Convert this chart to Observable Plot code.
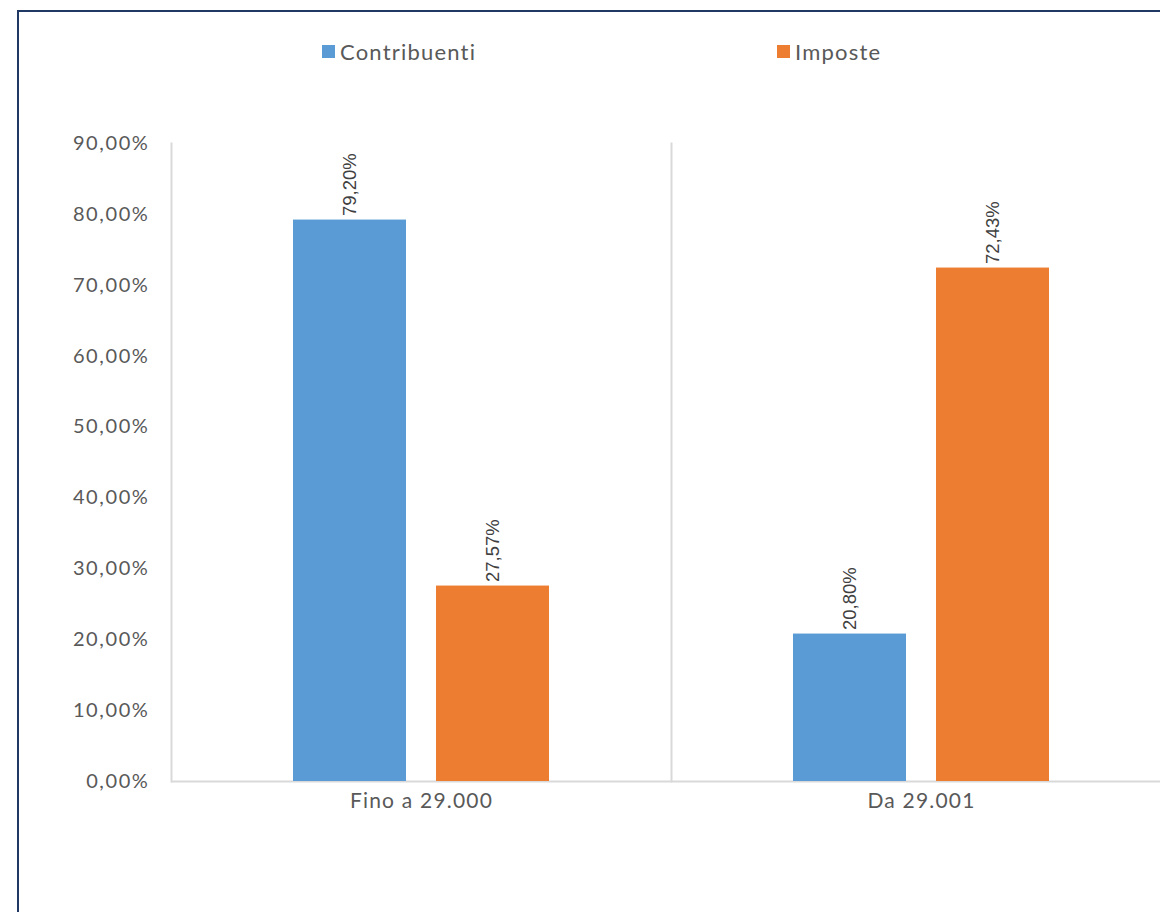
<!DOCTYPE html>
<html><head><meta charset="utf-8">
<script src="https://cdn.jsdelivr.net/npm/d3@7"></script>
<script src="https://cdn.jsdelivr.net/npm/@observablehq/plot@0.6"></script>
<style>
body{margin:0;background:#fff;}
#wrap{position:relative;width:1160px;height:912px;overflow:hidden;background:#fff;}
#border{position:absolute;left:17px;top:10px;width:1300px;height:1100px;border:2px solid #203864;box-sizing:border-box;pointer-events:none;}
.leg{position:absolute;top:38px;display:flex;align-items:center;font-family:Lato,sans-serif;font-size:22px;letter-spacing:1.2px;color:#595959;}
.sw{width:13px;height:13px;margin-right:5px;}
#chart svg{display:block;}
</style></head>
<body>
<div id="wrap">
  <div id="chart"></div>
  <div id="border"></div>
  <div id="legend"></div>
</div>
<script>
const categories = ["Fino a 29.000", "Da 29.001"];
const series = ["Contribuenti", "Imposte"];
const contribuenti = [79.20, 20.80];
const imposte = [27.57, 72.43];
const colors = ["#5B9BD5", "#ED7D31"];
const yTicks = [0, 10, 20, 30, 40, 50, 60, 70, 80, 90];

const values = {Contribuenti: contribuenti, Imposte: imposte};
const data = categories.flatMap((c, i) => series.map(s => ({cat: c, series: s, value: values[s][i]})));
const fmt = v => v.toFixed(2).replace(".", ",") + "%";

const chart = Plot.plot({
  width: 1160, height: 912,
  marginLeft: 171, marginRight: -11, marginTop: 143, marginBottom: 131,
  style: {fontFamily: "Lato, sans-serif", fontSize: "20px", color: "#595959", background: "transparent"},
  fx: {domain: categories, padding: 0, label: null},
  x: {domain: series, paddingInner: 0.21, paddingOuter: 0.853, axis: null},
  y: {domain: [0, 90], label: null},
  color: {domain: series, range: colors},
  marks: [
    Plot.frame({anchor: "left", stroke: "#d9d9d9", strokeWidth: 2}),
    Plot.ruleY([0], {stroke: "#d9d9d9", strokeWidth: 2}),
    Plot.axisY({ticks: yTicks, tickFormat: fmt, tickSize: 0, tickPadding: 22, fontSize: 20, fill: "#595959", label: null}),
    Plot.axisFx({anchor: "bottom", tickSize: 0, tickPadding: 12, fontSize: 21, fill: "#595959", label: null}),
    Plot.barY(data, {fx: "cat", x: "series", y: "value", fill: "series"}),
    Plot.text(data, {fx: "cat", x: "series", y: "value", text: d => fmt(d.value), rotate: -90,
      textAnchor: "start", dy: -4, fontFamily: "Liberation Sans, Arial, sans-serif", fontSize: 18.5, fill: "#404040"})
  ]
});
document.getElementById("chart").appendChild(chart);
d3.select(chart).selectAll('[aria-label^="y-axis tick label"] text').style("letter-spacing", "1.6px");
d3.select(chart).selectAll('[aria-label^="fx-axis tick label"] text').style("letter-spacing", "1.2px");

const legend = document.getElementById("legend");
const legLeft = [322, 777];
series.forEach((s, i) => {
  const item = document.createElement("div");
  item.className = "leg";
  item.style.left = legLeft[i] + "px";
  item.innerHTML = `<span class="sw" style="background:${colors[i]}"></span><span>${s}</span>`;
  legend.appendChild(item);
});
</script>
</body></html>
